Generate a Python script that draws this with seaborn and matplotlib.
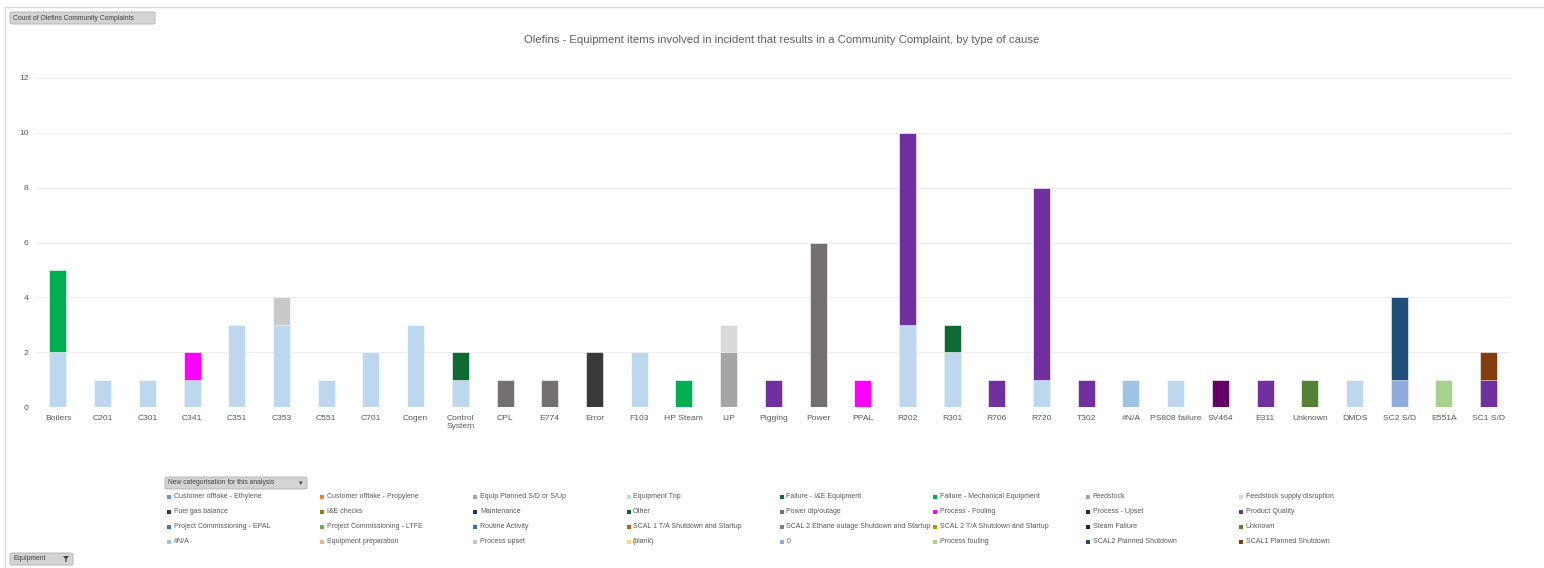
import matplotlib
matplotlib.use("Agg")
import matplotlib.pyplot as plt
from matplotlib.patches import Rectangle, FancyBboxPatch, Polygon
from matplotlib.lines import Line2D
import pandas as pd
import seaborn as sns

# ---- data -------------------------------------------------------------
equipment = ["Boilers", "C201", "C301", "C341", "C351", "C353", "C551", "C701",
             "Cogen", "Control\nSystem", "CPL", "E774", "Error", "F103",
             "HP Steam", "LIP", "Pigging", "Power", "PPAL", "R202", "R301",
             "R706", "R720", "T302", "#N/A", "PS808 failure", "SV464", "E311",
             "Unknown", "DMDS", "SC2 S/D", "E551A", "SC1 S/D"]

causes = ["Customer offtake - Ethylene", "Customer offtake - Propylene",
          "Equip Planned S/D or S/Up", "Equipment Trip",
          "Failure - I&E Equipment", "Failure - Mechanical Equipment",
          "Feedstock", "Feedstock supply disruption",
          "Fuel gas balance", "I&E checks", "Maintenance", "Other",
          "Power dip/outage", "Process - Fouling", "Process - Upset",
          "Product Quality",
          "Project Commissioning - EPAL", "Project Commissioning - LTFE",
          "Routine Activity", "SCAL 1 T/A Shutdown and Startup",
          "SCAL 2 Ethane outage Shutdown and Startup",
          "SCAL 2 T/A Shutdown and Startup", "Steam Failure", "Unknown",
          "#N/A", "Equipment preparation", "Process upset", "(blank)", "0",
          "Process fouling", "SCAL2 Planned Shutdown", "SCAL1 Planned Shutdown"]

cause_colors = ["#5B9BD5", "#ED7D31", "#A5A5A5", "#BDD7EE",
                "#0E6B34", "#00B050", "#A5A5A5", "#D9D9D9",
                "#3B3838", "#9E7B00", "#203864", "#0E6B34",
                "#757070", "#FF00FF", "#660066", "#7030A0",
                "#4472C4", "#70AD47", "#2E75B6", "#C55A11",
                "#7F7F7F", "#BF9000", "#262626", "#548235",
                "#9DC3E6", "#F4B183", "#C9C9C9", "#FFD966", "#8FAADC",
                "#A9D18E", "#1F4E79", "#843C0C"]

seg_equipment = ["Boilers", "Boilers", "C201", "C301", "C341", "C341", "C351",
                 "C353", "C353", "C551", "C701", "Cogen", "Control\nSystem",
                 "Control\nSystem", "CPL", "E774", "Error", "F103", "HP Steam",
                 "LIP", "LIP", "Pigging", "Power", "PPAL", "R202", "R202",
                 "R301", "R301", "R706", "R720", "R720", "T302", "#N/A",
                 "PS808 failure", "SV464", "E311", "Unknown", "DMDS",
                 "SC2 S/D", "SC2 S/D", "E551A", "SC1 S/D", "SC1 S/D"]
seg_cause = ["Equipment Trip", "Failure - Mechanical Equipment",
             "Equipment Trip", "Equipment Trip", "Equipment Trip",
             "Process - Fouling", "Equipment Trip", "Equipment Trip",
             "Process upset", "Equipment Trip", "Equipment Trip",
             "Equipment Trip", "Equipment Trip", "Failure - I&E Equipment",
             "Power dip/outage", "Power dip/outage", "Fuel gas balance",
             "Equipment Trip", "Failure - Mechanical Equipment", "Feedstock",
             "Feedstock supply disruption", "Product Quality",
             "Power dip/outage", "Process - Fouling", "Equipment Trip",
             "Product Quality", "Equipment Trip", "Other", "Product Quality",
             "Equipment Trip", "Product Quality", "Product Quality", "#N/A",
             "Equipment Trip", "Process - Upset", "Product Quality", "Unknown",
             "Equipment Trip", "0", "SCAL2 Planned Shutdown", "Process fouling",
             "Product Quality", "SCAL1 Planned Shutdown"]
seg_count = [2, 3, 1, 1, 1, 1, 3, 3, 1, 1, 2, 3, 1, 1, 1, 1, 2, 2, 1, 2, 1, 1,
             6, 1, 3, 7, 2, 1, 1, 1, 7, 1, 1, 1, 1, 1, 1, 1, 1, 3, 1, 1, 1]

title = ("Olefins - Equipment items involved in incident that results in a "
         "Community Complaint, by type of cause")

# ---- figure ------------------------------------------------------------
sns.set_theme(style="white")
plt.rcParams["font.family"] = ["Liberation Sans", "DejaVu Sans"]
TXT = "#595959"
W, H = 1544, 568
fig = plt.figure(figsize=(W / 100, H / 100), dpi=100)


def fx(px):
    return px / W


def fy(py):
    return 1 - py / H


# chart-area border (top and left edges)
fig.add_artist(Line2D([fx(5), 1], [fy(7), fy(7)], color="#D9D9D9", lw=1))
fig.add_artist(Line2D([fx(5), fx(5)], [fy(7), 0], color="#D9D9D9", lw=1))

ax = fig.add_axes([fx(35.6), fy(407), fx(1511) - fx(35.6), fy(78) - fy(407)])

# stacked values: each segment's top is the running total in cause order
df = pd.DataFrame({"equipment": seg_equipment, "cause": seg_cause,
                   "count": seg_count})
df["rank"] = df["cause"].map({c: i for i, c in enumerate(causes)})
df = df.sort_values(["equipment", "rank"])
df["top"] = df.groupby("equipment")["count"].cumsum()

# draw from the top-most series downwards so lower segments overlay
for cause, color in reversed(list(zip(causes, cause_colors))):
    sub = df[df["cause"] == cause]
    if sub.empty:
        continue
    sns.barplot(data=sub, x="equipment", y="top", order=equipment,
                color=color, width=0.38, saturation=1, ax=ax,
                edgecolor="white", linewidth=0.4, errorbar=None, zorder=3)

ax.set_xlim(-0.5, len(equipment) - 0.5)
ax.set_ylim(0, 12)
ax.set_yticks(range(0, 13, 2))
ax.yaxis.grid(True, color="#EDEDED", lw=0.8, zorder=0)
ax.xaxis.grid(False)
for s in ax.spines.values():
    s.set_visible(False)
ax.set_xlabel("")
ax.set_ylabel("")
ax.tick_params(axis="both", length=0, labelsize=6.1, colors=TXT)
ax.tick_params(axis="x", pad=5.5)
ax.tick_params(axis="y", pad=5)

fig.text(0.5065, fy(40), title, ha="center", va="center", fontsize=8.2,
         color="#606060")


def button(x0, y0, x1, y1, label, fs=4.85):
    box = FancyBboxPatch((fx(x0), fy(y1)), fx(x1) - fx(x0), fy(y0) - fy(y1),
                         boxstyle="round,pad=0,rounding_size=0.002",
                         transform=fig.transFigure, facecolor="#D4D4D4",
                         edgecolor="#B0B0B0", lw=0.6)
    fig.add_artist(box)
    fig.text(fx(x0 + 3), fy((y0 + y1) / 2), label, ha="left", va="center",
             fontsize=fs, color="#404040")


button(10, 12, 155, 24, "Count of Olefins Community Complaints")
button(165, 477, 307, 489, "New categorisation for this analysis")
fig.text(fx(301), fy(483), "▾", ha="center", va="center", fontsize=5,
         color="#404040", family="DejaVu Sans")
button(10, 553, 73, 565, "Equipment")
fig.add_artist(Polygon([(fx(63), fy(556)), (fx(69), fy(556)), (fx(66.6), fy(559)),
                        (fx(66.6), fy(562)), (fx(65.4), fy(562)), (fx(65.4), fy(559))],
                       closed=True, transform=fig.transFigure,
                       facecolor="#404040", edgecolor="none"))

# legend laid out row by row, 8 columns
for i, (cause, color) in enumerate(zip(causes, cause_colors)):
    r, c = divmod(i, 8)
    x = 169 + c * 153.2
    y = 496.5 + r * 15
    fig.add_artist(Rectangle((fx(x - 2), fy(y + 2)), fx(4), fy(0) - fy(4),
                             transform=fig.transFigure, facecolor=color,
                             edgecolor="none"))
    fig.text(fx(x + 4.5), fy(y), cause, ha="left", va="center", fontsize=5.0,
             color=TXT)

fig.savefig("out.png", dpi=100)
